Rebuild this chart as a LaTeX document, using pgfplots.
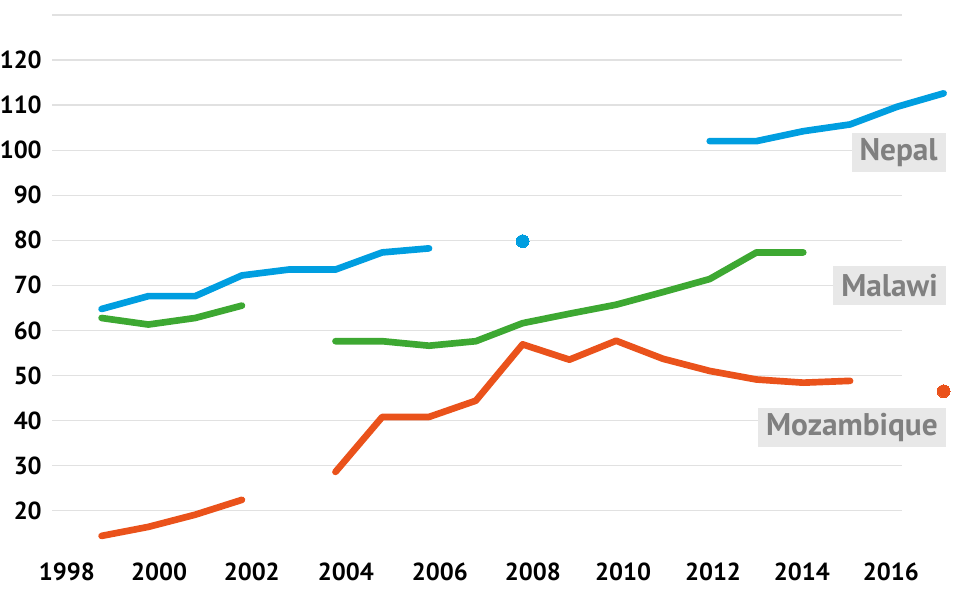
\documentclass[border=0pt]{standalone}
\usepackage{pgfplots}
\pgfplotsset{compat=1.18}
\usepackage{fontspec}
\setmainfont{PT Sans}
\definecolor{nepalblue}{RGB}{0,158,224}
\definecolor{malawigreen}{RGB}{61,168,50}
\definecolor{mozorange}{RGB}{234,82,27}
\definecolor{labgray}{RGB}{128,128,128}
\definecolor{boxgray}{RGB}{232,232,232}
\definecolor{gridgray}{RGB}{225,225,225}
\begin{document}
\begin{tikzpicture}
\begin{axis}[
    scale only axis,
    width=637.5pt, height=371.8pt,
    xmin=1997.94, xmax=2016.11,
    ymin=20, ymax=130,
    clip=false,
    axis line style={draw=none},
    major tick length=0pt,
    ytick={20,30,...,130},
    yticklabels={20,30,40,50,60,70,80,90,100,110,120,{}},
    xtick={1998.26,2000.23,2002.21,2004.22,2006.23,2008.22,2010.15,2012.07,2013.97,2015.87},
    xticklabels={1998,2000,2002,2004,2006,2008,2010,2012,2014,2016},
    ymajorgrids=true,
    grid style={line width=0.9pt, gridgray},
    tick label style={font=\fontsize{18.5}{18.5}\selectfont\bfseries, black},
    yticklabel style={inner sep=0pt, anchor=east, xshift=-7.5pt},
    xticklabel style={inner sep=0pt, anchor=north, yshift=-39pt},
    line/.style={line width=5pt, line cap=round, line join=round, no markers},
    dot/.style={only marks, mark=*, mark size=4.8pt, mark options={draw=none, line width=0pt}},
]
% Nepal
\addplot[nepalblue, line] coordinates {(1999,64.75)(2000,67.6)(2001,67.6)(2002,72.2)(2003,73.5)(2004,73.5)(2005,77.3)(2006,78.2)};
\addplot[nepalblue, dot] coordinates {(2008,79.8)};
\addplot[nepalblue, line] coordinates {(2012,102.0)(2013,102.0)(2014,104.2)(2015,105.7)(2016,109.6)(2017,112.6)};
% Malawi
\addplot[malawigreen, line] coordinates {(1999,62.75)(2000,61.3)(2001,62.75)(2002,65.5)};
\addplot[malawigreen, line] coordinates {(2004,57.6)(2005,57.6)(2006,56.6)(2007,57.6)(2008,61.6)(2009,63.7)(2010,65.7)(2011,68.5)(2012,71.4)(2013,77.3)(2014,77.3)};
% Mozambique
\addplot[mozorange, line] coordinates {(1999,14.4)(2000,16.4)(2001,19.1)(2002,22.4)};
\addplot[mozorange, line] coordinates {(2004,28.6)(2005,40.8)(2006,40.8)(2007,44.4)(2008,56.9)(2009,53.5)(2010,57.7)(2011,53.7)(2012,51.0)(2013,49.1)(2014,48.4)(2015,48.8)};
\addplot[mozorange, dot] coordinates {(2017,46.5)};
% labels
\tikzset{countrylab/.style={fill=boxgray, text=labgray, anchor=east, inner xsep=6pt, inner ysep=0pt,
    minimum height=29pt, font=\fontsize{23.5}{23.5}\selectfont\bfseries}}
\node[countrylab] at (axis cs:2017.05,99.5) {Nepal};
\node[countrylab] at (axis cs:2017.05,69.9) {Malawi};
\node[countrylab] at (axis cs:2017.05,38.5) {Mozambique};
\end{axis}
\pgfresetboundingbox
\path[use as bounding box] (-39pt,-65.5pt) rectangle (681pt,383pt);
\end{tikzpicture}
\end{document}
